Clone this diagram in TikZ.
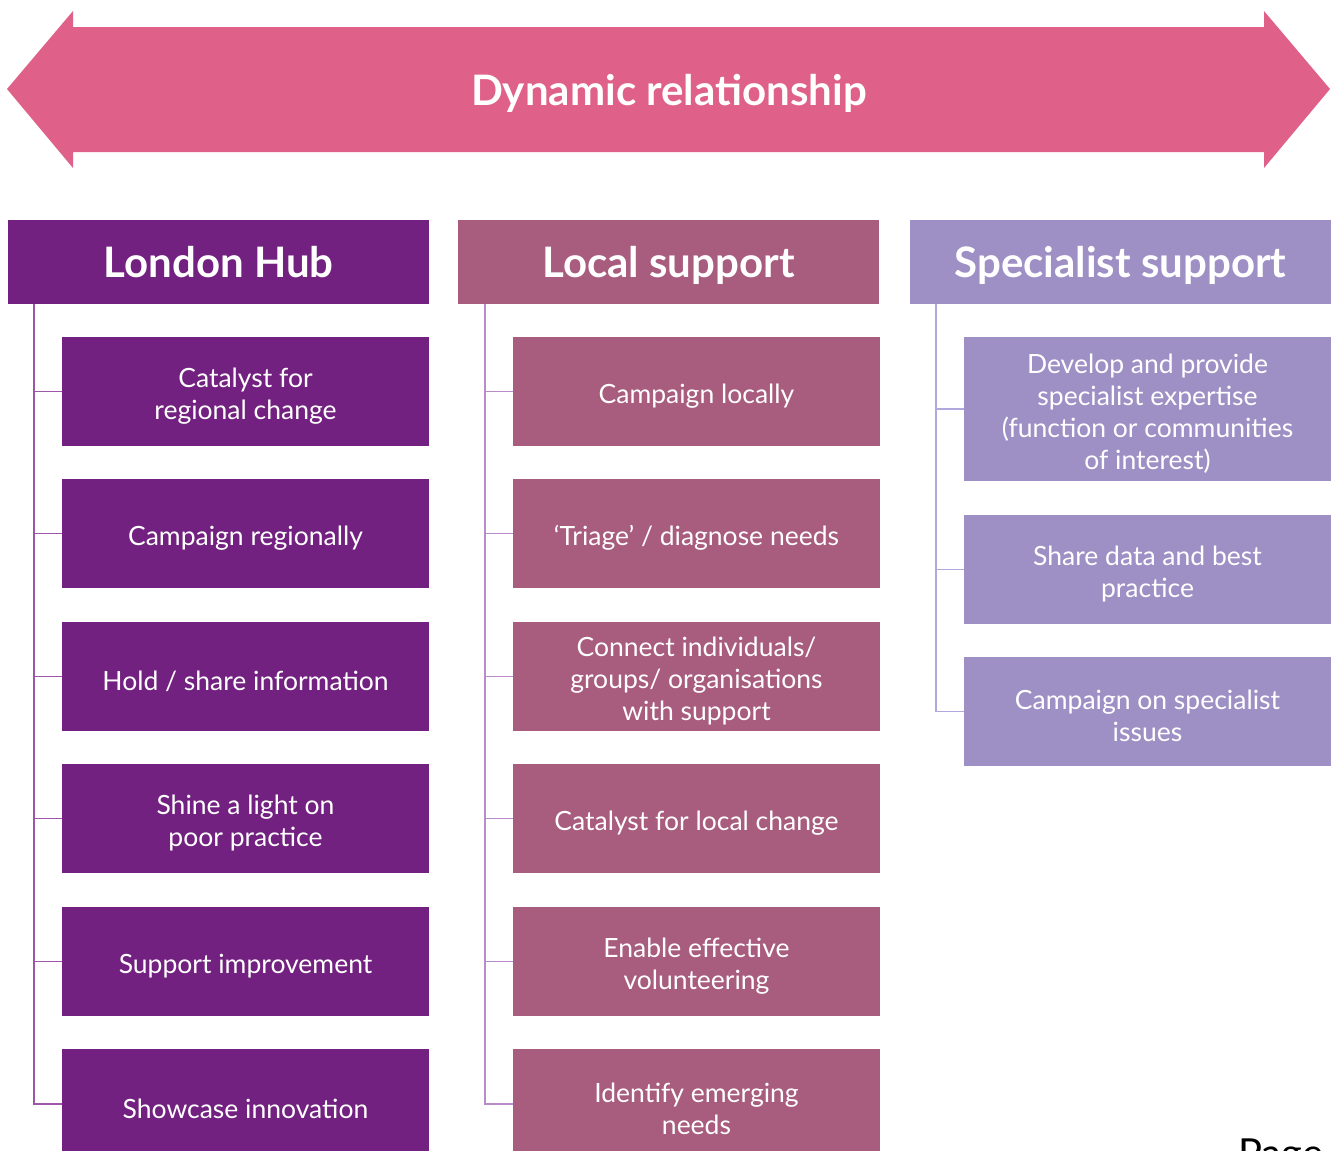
\documentclass[tikz,border=0pt]{standalone}
\usepackage{fontspec}
\setmainfont{Lato}
\definecolor{londonc}{HTML}{732180}
\definecolor{localc}{HTML}{A85C7E}
\definecolor{specc}{HTML}{9E90C5}
\definecolor{pinkc}{HTML}{DF6089}
\definecolor{londonl}{HTML}{9D57A8}
\definecolor{locall}{HTML}{B98BC9}
\definecolor{specl}{HTML}{B3A8DE}
\tikzset{
  hdrtext/.style={text=white, font=\fontsize{42}{46}\selectfont\bfseries},
  hdr/.style={anchor=north west, minimum width=421pt, minimum height=84pt, inner sep=0pt, outer sep=0pt, text depth=0pt, hdrtext},
  bx/.style={anchor=north west, minimum width=367pt, inner sep=0pt, outer sep=0pt},
  btext/.style={text=white, align=center, inner sep=0pt, yshift=-4.5pt, font=\fontsize{26.5}{32}\selectfont},
  bt/.style={label={[btext]center:{#1}}},
  lbox/.style={bx, fill=londonc, minimum height=109pt},
  cbox/.style={bx, fill=localc, minimum height=109pt},
  sbox/.style={bx, fill=specc},
  conn/.style={line width=1.4pt}
}
\begin{document}
\begin{tikzpicture}[x=1pt,y=-1pt]
\useasboundingbox (0,0) rectangle (1336,1151);
\clip (0,0) rectangle (1336,1151);
% arrow
\fill[pinkc] (7,89) -- (73,11) -- (73,27) -- (1264,27) -- (1264,11) -- (1330,89) -- (1264,168) -- (1264,152) -- (73,152) -- (73,168) -- cycle;
\node[hdrtext] (title) at (669,93) {Dynamic relationship};
% headers
\node[hdr, fill=londonc] (lh) at (8,220) {London Hub};
\node[hdr, fill=localc] (ch) at (458,220) {Local support};
\node[hdr, fill=specc] (sh) at (910,220) {Specialist support};
% London column
\node[lbox, bt={Catalyst for\\regional change}] (l1) at (62,337) {};
\node[lbox, bt={Campaign regionally}] (l2) at (62,479) {};
\node[lbox, bt={Hold / share information}] (l3) at (62,622) {};
\node[lbox, bt={Shine a light on\\poor practice}] (l4) at (62,764) {};
\node[lbox, bt={Support improvement}] (l5) at (62,907) {};
\node[lbox, minimum height=110pt, bt={Showcase innovation}] (l6) at (62,1049) {};
% Local column
\node[cbox, bt={Campaign locally}] (c1) at (513,337) {};
\node[cbox, bt={‘Triage’ / diagnose needs}] (c2) at (513,479) {};
\node[cbox, bt={Connect individuals/\\groups/ organisations\\with support}] (c3) at (513,622) {};
\node[cbox, bt={Catalyst for local change}] (c4) at (513,764) {};
\node[cbox, bt={Enable effective\\volunteering}] (c5) at (513,907) {};
\node[cbox, minimum height=110pt, bt={Identify emerging\\needs}] (c6) at (513,1049) {};
% Specialist column
\node[sbox, minimum height=144pt, bt={Develop and provide\\specialist expertise\\(function or communities\\of interest)}] (s1) at (964,337) {};
\node[sbox, minimum height=109pt, bt={Share data and best\\practice}] (s2) at (964,515) {};
\node[sbox, minimum height=109pt, bt={Campaign on specialist\\issues}] (s3) at (964,657) {};
% connectors
\coordinate (lx) at (34,304);
\coordinate (cx) at (485,304);
\coordinate (sx) at (936,304);
\draw[conn, londonl] (lx) |- (l6.west);
\foreach \i in {1,...,5} \draw[conn, londonl] (lx |- l\i.west) -- (l\i.west);
\draw[conn, locall] (cx) |- (c6.west);
\foreach \i in {1,...,5} \draw[conn, locall] (cx |- c\i.west) -- (c\i.west);
\draw[conn, specl] (sx) |- (s3.west);
\foreach \i in {1,2} \draw[conn, specl] (sx |- s\i.west) -- (s\i.west);
% partial page label
\node[anchor=base west, inner sep=0pt, font=\fontsize{40}{44}\selectfont] (page) at (1238,1167) {Page};
\end{tikzpicture}
\end{document}
